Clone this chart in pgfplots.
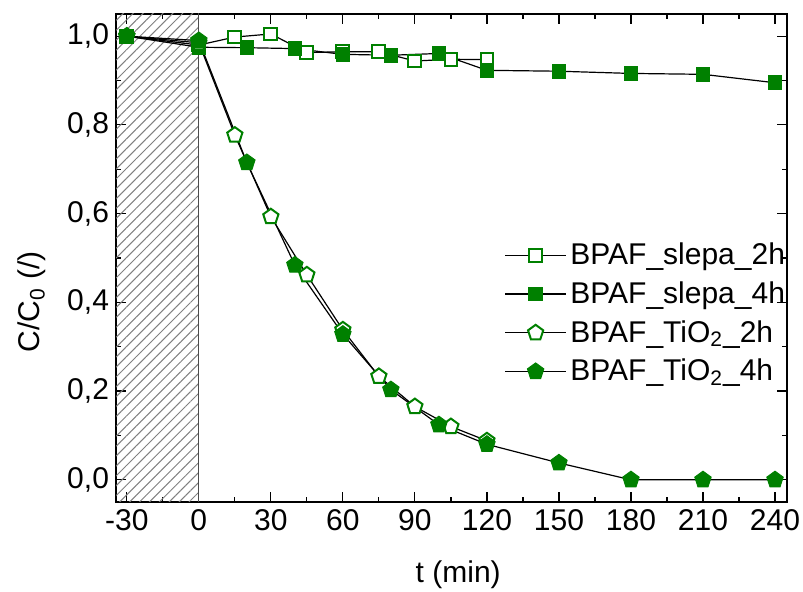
\documentclass[border=0pt]{standalone}
\usepackage{pgfplots}
\pgfplotsset{compat=1.18}
\usepackage{fontspec}
\setmainfont{Liberation Sans}
\usetikzlibrary{patterns.meta}
\definecolor{ogreen}{RGB}{0,128,0}
\begin{document}
\begin{tikzpicture}
\useasboundingbox (0,0) rectangle (401.5pt,296pt);
\begin{axis}[
  at={(58pt,45pt)}, anchor=south west,
  scale only axis, width=335.5pt, height=244pt,
  xmin=-34.5, xmax=245, ymin=-0.05, ymax=1.05,
  xtick={-30,0,...,240}, minor x tick num=1,
  ytick={0,0.2,...,1.0}, minor y tick num=1,
  major tick length=5pt, minor tick length=2.5pt,
  tick style={black, line width=0.6pt},
  axis line style={line width=0.9pt},
  /pgf/number format/assume math mode=true,
  yticklabel style={/pgf/number format/.cd, use comma, fixed, fixed zerofill, precision=1},
  xticklabel style={/pgf/number format/.cd, fixed},
  ticklabel style={font=\fontsize{15}{17}\selectfont},
  label style={font=\fontsize{15}{17}\selectfont},
  xlabel={t (min)}, ylabel={C/C\textsubscript{0} (/)},
  xlabel style={at={(0.51,-0.15)}, anchor=center},
  ylabel style={at={(-0.125,0.41)}, anchor=center},
  legend style={at={(0.57,0.548)}, anchor=north west, draw=none, fill=none,
    font=\fontsize{15}{17}\selectfont, row sep=3pt},
  legend cell align=left,
  legend image code/.code={\draw[mark repeat=2,mark phase=2] plot coordinates {(0cm,0cm) (0.53cm,0cm) (1.06cm,0cm)};},
]
\fill[pattern={Lines[angle=45,distance=3.5pt,line width=0.5pt]}, pattern color=gray]
  (axis cs:-40,-0.1) rectangle (axis cs:0,1.1);
\draw[gray!60!black, line width=0.6pt] (axis cs:0,-0.1) -- (axis cs:0,1.1);

\addplot[black, line width=0.6pt, mark=square*, mark size=3.2pt,
  mark options={draw=ogreen, fill=white, line width=1pt}]
  coordinates {(-30,1.0) (0,0.98) (15,0.998) (30,1.005) (45,0.963) (60,0.965) (75,0.965) (90,0.944) (105,0.948) (120,0.947)};
\addlegendentry{BPAF\_slepa\_2h}

\addplot[black, line width=0.6pt, mark=square*, mark size=3.4pt,
  mark options={draw=ogreen, fill=ogreen, line width=0.5pt}]
  coordinates {(-30,1.0) (0,0.975) (20,0.974) (40,0.972) (60,0.959) (80,0.957) (100,0.961) (120,0.923) (150,0.921) (180,0.916) (210,0.914) (240,0.895)};
\addlegendentry{BPAF\_slepa\_4h}

\addplot[black, line width=0.6pt, mark=pentagon*, mark size=4pt,
  mark options={draw=ogreen, fill=white, line width=1pt}]
  coordinates {(-30,1.0) (0,0.985) (15,0.777) (30,0.593) (45,0.462) (60,0.338) (75,0.233) (90,0.165) (105,0.12) (120,0.088)};
\addlegendentry{BPAF\_TiO\textsubscript{2}\_2h}

\addplot[black, line width=0.6pt, mark=pentagon*, mark size=4.3pt,
  mark options={draw=ogreen, fill=ogreen, line width=0.5pt}]
  coordinates {(-30,1.0) (0,0.99) (20,0.715) (40,0.484) (60,0.328) (80,0.203) (100,0.124) (120,0.08) (150,0.038) (180,0.0) (210,0.0) (240,0.0)};
\addlegendentry{BPAF\_TiO\textsubscript{2}\_4h}
\end{axis}
\end{tikzpicture}
\end{document}
